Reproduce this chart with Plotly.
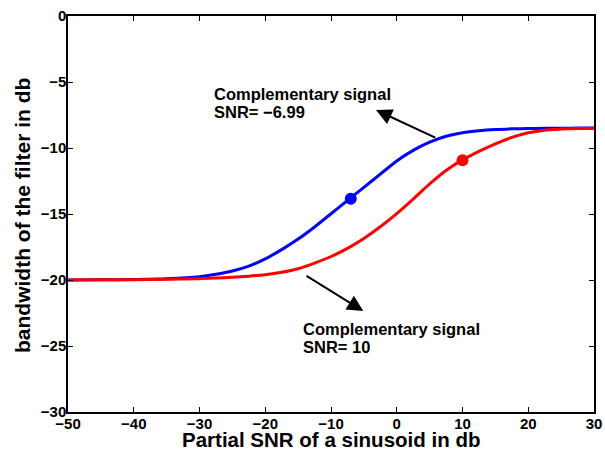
import plotly.graph_objects as go

# Data
x_grid = [-50, -45, -40, -35, -30, -27.5, -25, -22.5, -20, -17.5, -15, -12.5, -10, -7.5,
          -5, -2.5, 0, 2.5, 5, 7.5, 10, 12.5, 15, 17.5, 20, 22.5, 25, 27.5, 30]
blue_y = [-20.0, -19.99, -19.96, -19.9, -19.75, -19.57, -19.32, -18.95, -18.4, -17.7,
          -16.9, -15.98, -14.98, -13.98, -12.98, -11.98, -10.98, -10.18, -9.56, -9.11,
          -8.84, -8.69, -8.6, -8.55, -8.52, -8.51, -8.5, -8.49, -8.49]
red_y = [-20.0, -19.99, -19.98, -19.95, -19.9, -19.85, -19.79, -19.71, -19.6, -19.42,
         -19.15, -18.72, -18.22, -17.6, -16.85, -15.97, -14.97, -13.87, -12.72, -11.7,
         -10.9, -10.25, -9.68, -9.2, -8.85, -8.65, -8.57, -8.52, -8.5]
blue_pt = (-6.99, -13.84)
red_pt = (10.0, -10.93)

x_ticks = [-50, -40, -30, -20, -10, 0, 10, 20, 30]
y_ticks = [-30, -25, -20, -15, -10, -5, 0]

FONT = "Liberation Sans, Arial, Helvetica, sans-serif"
L, R, T, B = 68, 11, 16, 39
W, H = 605, 451
PW, PH = W - L - R, H - T - B


def px(X):
    return (X - L) / PW


def py(Y):
    return (H - B - Y) / PH


fig = go.Figure()
fig.add_trace(go.Scatter(x=x_grid, y=blue_y, mode="lines",
                         line=dict(color="#0000ff", width=3, shape="spline", smoothing=0.8),
                         showlegend=False, hoverinfo="skip"))
fig.add_trace(go.Scatter(x=x_grid, y=red_y, mode="lines",
                         line=dict(color="#ff0000", width=3, shape="spline", smoothing=0.8),
                         showlegend=False, hoverinfo="skip"))
fig.add_trace(go.Scatter(x=[blue_pt[0]], y=[blue_pt[1]], mode="markers",
                         marker=dict(color="#0000ff", size=12), showlegend=False))
fig.add_trace(go.Scatter(x=[red_pt[0]], y=[red_pt[1]], mode="markers",
                         marker=dict(color="#ff0000", size=12), showlegend=False))

tfont = dict(family=FONT, size=16.5, color="black", weight="bold")
annos = []
# arrows (head at x,y ; tail at ax,ay)
annos.append(dict(x=-3.16, y=-7.12, ax=6.08, ay=-9.27, xref="x", yref="y",
                  axref="x", ayref="y", showarrow=True, arrowhead=2, arrowsize=1.6,
                  arrowwidth=2, arrowcolor="black", text=""))
annos.append(dict(x=-5.09, y=-22.35, ax=-13.95, ay=-19.62, xref="x", yref="y",
                  axref="x", ayref="y", showarrow=True, arrowhead=2, arrowsize=1.6,
                  arrowwidth=2, arrowcolor="black", text=""))
# texts (one line per annotation to match the line spacing)
for txt, X, Y in [("Complementary signal", 212, 94), ("SNR= \u22126.99", 212, 111.7),
                  ("Complementary signal", 301, 329), ("SNR= 10", 301, 346.7)]:
    annos.append(dict(x=px(X), y=py(Y), xref="paper", yref="paper",
                      xanchor="left", yanchor="middle", showarrow=False,
                      text=txt, font=tfont))
# axis titles
annos.append(dict(x=px(331), y=py(452), xref="paper", yref="paper", xanchor="center",
                  yanchor="bottom", showarrow=False, text="Partial SNR of a sinusoid in db",
                  borderpad=0,
                  font=dict(family=FONT, size=20.5, color="black", weight="bold")))
annos.append(dict(x=px(23), y=py(216), xref="paper", yref="paper", xanchor="center",
                  yanchor="middle", showarrow=False, textangle=-90,
                  text="bandwidth of the filter in db",
                  font=dict(family=FONT, size=21, color="black", weight="bold")))

fig.update_layout(
    width=W, height=H,
    margin=dict(l=L, r=R, t=T, b=B, autoexpand=False),
    paper_bgcolor="white", plot_bgcolor="white",
    annotations=annos,
    xaxis=dict(range=[-50, 30], tickvals=x_ticks, ticks="inside", ticklen=5,
               tickwidth=1, tickcolor="black", showline=True, linecolor="black",
               linewidth=1.5, mirror="ticks", showgrid=False, zeroline=False,
               automargin=False, ticklabelstandoff=-3,
               tickfont=dict(family=FONT, size=15, color="black", weight="bold")),
    yaxis=dict(range=[-30, 0], tickvals=y_ticks, ticks="inside", ticklen=5,
               tickwidth=1, tickcolor="black", showline=True, linecolor="black",
               linewidth=1.5, mirror="ticks", showgrid=False, zeroline=False,
               automargin=False, ticklabelstandoff=-3,
               tickfont=dict(family=FONT, size=15, color="black", weight="bold")),
)
fig.write_html("out.html")
